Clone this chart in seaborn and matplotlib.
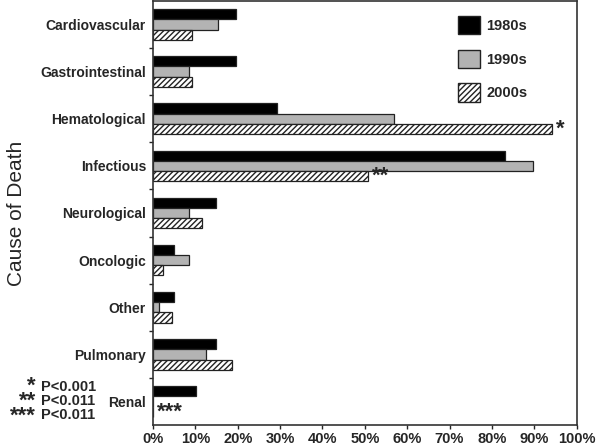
import pandas as pd
import numpy as np
import matplotlib
matplotlib.use("Agg")
import matplotlib.pyplot as plt
import matplotlib.patches as mpatches
from matplotlib.ticker import FixedLocator, PercentFormatter
import seaborn as sns

causes = ["Cardiovascular", "Gastrointestinal", "Hematological", "Infectious",
          "Neurological", "Oncologic", "Other", "Pulmonary", "Renal"]
decades = ["1980s", "1990s", "2000s"]
v1980 = [19.6, 19.6, 29.2, 83.0, 14.9, 5.0, 5.0, 14.9, 10.1]
v1990 = [15.3, 8.4, 56.8, 89.6, 8.4, 8.4, 1.4, 12.4, 0.0]
v2000 = [9.2, 9.2, 94.2, 50.7, 11.6, 2.3, 4.6, 18.6, 0.0]
stars = {"Hematological": "*", "Infectious": "**", "Renal": "***"}
key_stars = ["*", "**", "***"]
key_p = ["P<0.001", "P<0.011", "P<0.011"]

df = pd.DataFrame({
    "cause": causes * 3,
    "decade": [d for d in decades for _ in causes],
    "pct": v1980 + v1990 + v2000,
})
vals = dict(zip(decades, [v1980, v1990, v2000]))

sns.set_style("white")
plt.rcParams["font.family"] = ["Liberation Sans", "DejaVu Sans"]
plt.rcParams["hatch.linewidth"] = 1.0

fig = plt.figure(figsize=(6, 4.47), dpi=100)
ax = fig.add_axes([0.255, 0.049, 0.706, 0.949])

colors = {"1980s": "black", "1990s": "#b3b3b3", "2000s": "white"}
sns.barplot(data=df, y="cause", x="pct", hue="decade", order=causes,
            hue_order=decades, palette=colors, orient="h", width=0.65,
            edgecolor="#222222", linewidth=0.9, legend=False, ax=ax)
for bar in ax.containers[2]:
    bar.set_hatch("//////")

ax.set_xlim(0, 100)
ax.set_ylim(len(causes) - 0.5, -0.5)
ax.xaxis.set_major_locator(FixedLocator(np.arange(0, 101, 10)))
ax.xaxis.set_major_formatter(PercentFormatter(decimals=0))
ax.tick_params(axis="x", direction="out", length=3, width=1, labelsize=10.5,
               pad=2, bottom=True)
ax.tick_params(axis="y", which="major", length=0, labelsize=10, pad=5)
ax.yaxis.set_minor_locator(FixedLocator(np.arange(0.5, len(causes) - 1, 1)))
ax.tick_params(axis="y", which="minor", direction="out", length=3, width=1,
               left=True)
for lab in ax.get_xticklabels() + ax.get_yticklabels():
    lab.set_fontweight("bold")
for sp in ax.spines.values():
    sp.set_visible(True)
    sp.set_color("#333333")
    sp.set_linewidth(1.2)

ax.set_xlabel("")
ax.set_ylabel("Cause of Death", fontsize=15, labelpad=8)
ax.yaxis.set_label_coords(-0.30, 0.5)

# significance stars next to the 2000s bars
for cause, s in stars.items():
    i = causes.index(cause)
    x = vals["2000s"][i]
    ax.text(x + 1.0, i + 0.217, s, fontsize=16, fontweight="bold",
            va="center", ha="left")

# p-value key
fig.text(0.06, 0.102, "\n".join(key_stars), fontsize=16, fontweight="bold",
         ha="right", va="center", multialignment="right", linespacing=0.64)
fig.text(0.068, 0.103, "\n".join(key_p), fontsize=10.5, fontweight="bold",
         ha="left", va="center", linespacing=0.97)

handles = [mpatches.Patch(facecolor=colors[d], edgecolor="#222222",
                          hatch="//////" if d == "2000s" else None, label=d)
           for d in decades]
leg = ax.legend(handles=handles, loc="upper left", bbox_to_anchor=(0.69, 0.995),
                frameon=False, prop={"weight": "bold", "size": 10.5},
                handlelength=1.45, handleheight=1.55, labelspacing=1.05,
                handletextpad=0.45)

fig.savefig("out.png", dpi=100)
